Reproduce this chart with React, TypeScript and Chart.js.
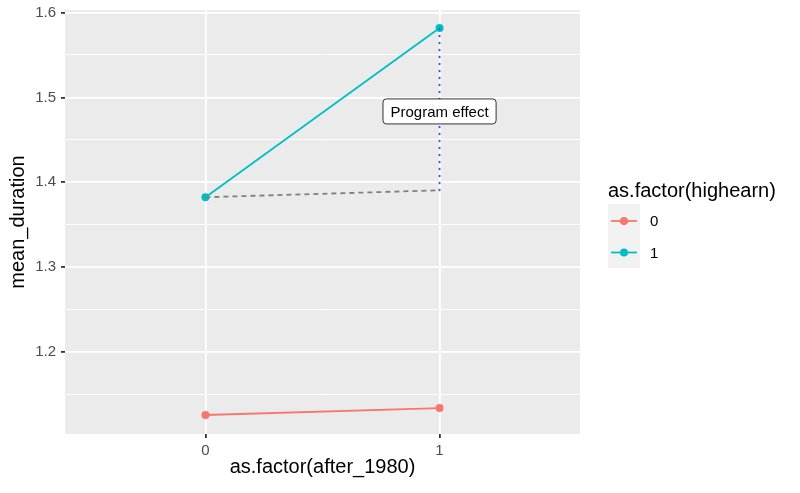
import { useEffect, useRef } from "react"
import { Chart, registerables, type ChartConfiguration, type Plugin } from "chart.js"

Chart.register(...registerables)

const after1980 = [0, 1]
const lowEarn = [1.1259, 1.134]
const highEarn = [1.3824, 1.5818]
const counterfactual = [1.3824, 1.3906]
const yTicks = [1.15, 1.2, 1.25, 1.3, 1.35, 1.4, 1.45, 1.5, 1.55, 1.6]
const yMajor = [1.2, 1.3, 1.4, 1.5, 1.6]
const groups = ["0", "1"]
const groupColors = ["#F8766D", "#00BFC4"]
const effectLabel = "Program effect"
const effectLabelY = 1.4835

const FONT = "'Liberation Sans', Arial, sans-serif"

const isMajor = (v: number) => yMajor.some((m) => Math.abs(m - v) < 1e-6)

const panelBg: Plugin = {
  id: "panelBg",
  beforeDraw: (chart) => {
    const { ctx, chartArea: a } = chart
    ctx.save()
    ctx.fillStyle = "#EBEBEB"
    ctx.fillRect(a.left, a.top, a.right - a.left, a.bottom - a.top)
    ctx.restore()
  },
}

const extras: Plugin = {
  id: "extras",
  afterDraw: (chart) => {
    const ctx = chart.ctx
    const xs = chart.scales.x
    const ys = chart.scales.y

    // annotation label
    const cx = xs.getPixelForValue(after1980[1])
    const cy = ys.getPixelForValue(effectLabelY)
    ctx.save()
    ctx.font = `15px ${FONT}`
    const w = ctx.measureText(effectLabel).width + 15
    const h = 25
    ctx.beginPath()
    ctx.roundRect(cx - w / 2, cy - h / 2, w, h, 3.5)
    ctx.fillStyle = "#fff"
    ctx.fill()
    ctx.strokeStyle = "#000"
    ctx.lineWidth = 0.8
    ctx.stroke()
    ctx.fillStyle = "#000"
    ctx.textAlign = "center"
    ctx.textBaseline = "middle"
    ctx.fillText(effectLabel, cx, cy + 1)

    // legend
    ctx.textAlign = "left"
    ctx.font = `20px ${FONT}`
    ctx.fillText("as.factor(highearn)", 608, 191)
    ctx.fillStyle = "#F2F2F2"
    ctx.fillRect(608, 204, 32, 64)
    groups.forEach((g, i) => {
      const y = 221 + i * 31.5
      ctx.strokeStyle = groupColors[i]
      ctx.lineWidth = 1.8
      ctx.beginPath()
      ctx.moveTo(611, y)
      ctx.lineTo(637, y)
      ctx.stroke()
      ctx.fillStyle = groupColors[i]
      ctx.beginPath()
      ctx.arc(624, y, 4, 0, Math.PI * 2)
      ctx.fill()
      ctx.fillStyle = "#000"
      ctx.font = `15px ${FONT}`
      ctx.fillText(g, 650, y + 1)
    })
    ctx.restore()
  },
}

export default function App() {
  const chartRef = useRef<HTMLCanvasElement>(null)
  const chartInstance = useRef<Chart | null>(null)

  useEffect(() => {
    document.body.style.margin = "0"
    if (!chartRef.current) return
    const ctx = chartRef.current.getContext("2d")
    if (!ctx) return
    if (chartInstance.current) chartInstance.current.destroy()

    const pts = (ys: number[]) => after1980.map((x, i) => ({ x, y: ys[i] }))

    const config: ChartConfiguration = {
      type: "line",
      data: {
        datasets: [
          {
            data: pts(counterfactual),
            borderColor: "#7F7F7F",
            borderWidth: 1.8,
            borderDash: [5, 4],
            pointRadius: 0,
          },
          {
            data: [
              { x: after1980[1], y: counterfactual[1] },
              { x: after1980[1], y: highEarn[1] },
            ],
            borderColor: "#3F51E6",
            borderWidth: 2,
            borderDash: [0.5, 6.5],
            borderCapStyle: "round",
            pointRadius: 0,
          },
          {
            data: pts(lowEarn),
            borderColor: groupColors[0],
            backgroundColor: groupColors[0],
            borderWidth: 1.8,
            pointRadius: 4,
            pointBorderWidth: 0,
          },
          {
            data: pts(highEarn),
            borderColor: groupColors[1],
            backgroundColor: groupColors[1],
            borderWidth: 1.8,
            pointRadius: 4,
            pointBorderWidth: 0,
          },
        ],
      },
      options: {
        responsive: true,
        maintainAspectRatio: false,
        animation: false,
        layout: { padding: { top: 10, right: 220, bottom: 0, left: 0 } },
        plugins: { legend: { display: false }, tooltip: { enabled: false } },
        scales: {
          x: {
            type: "linear",
            min: -0.6,
            max: 1.6,
            afterBuildTicks: (s) => {
              s.ticks = after1980.map((v) => ({ value: v }))
            },
            afterFit: (s) => {
              s.height = 59
              s.paddingLeft = 0
              s.paddingRight = 0
            },
            border: { display: false },
            grid: { color: "#fff", lineWidth: 1.8, tickLength: 4, tickColor: "#333" },
            ticks: {
              color: "#4D4D4D",
              font: { family: FONT, size: 15 },
              padding: 4,
              callback: (v) => String(v),
            },
            title: {
              display: true,
              text: "as.factor(after_1980)",
              color: "#000",
              font: { family: FONT, size: 20 },
              padding: { top: 0, bottom: 14 },
            },
          },
          y: {
            type: "linear",
            min: 1.1035,
            max: 1.603,
            afterBuildTicks: (s) => {
              s.ticks = yTicks.map((v) => ({ value: v }))
            },
            afterFit: (s) => {
              s.width = 65
              s.paddingTop = 0
              s.paddingBottom = 0
            },
            border: { display: false },
            grid: {
              color: "#fff",
              lineWidth: (c) => (isMajor(c.tick.value) ? 1.8 : 0.9),
              tickLength: 4,
              tickColor: (c) => (isMajor(c.tick.value) ? "#333" : "rgba(0,0,0,0)"),
            },
            ticks: {
              color: "#4D4D4D",
              font: { family: FONT, size: 15 },
              padding: 5,
              callback: (v) => (isMajor(Number(v)) ? Number(v).toFixed(1) : ""),
            },
            title: {
              display: true,
              text: "mean_duration",
              color: "#000",
              font: { family: FONT, size: 20 },
              padding: { top: 6, bottom: 0 },
            },
          },
        },
      },
      plugins: [panelBg, extras],
    }

    chartInstance.current = new Chart(ctx, config)
    return () => {
      if (chartInstance.current) chartInstance.current.destroy()
    }
  }, [])

  return (
    <div style={{ width: 800, height: 493, position: "relative" }}>
      <canvas ref={chartRef} />
    </div>
  )
}
